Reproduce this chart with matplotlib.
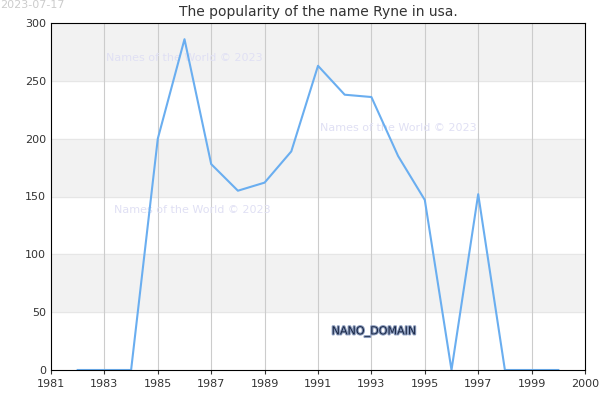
import matplotlib
matplotlib.use("Agg")
import matplotlib.pyplot as plt
import matplotlib.patheffects as pe

years = list(range(1982, 2001))
values = [0, 0, 0, 200, 286, 178, 155, 162, 189, 263, 238, 236, 185, 147, 0, 152, 0, 0, 0]
tick_pos = [1981, 1983, 1985, 1987, 1989, 1991, 1993, 1995, 1997, 1999, 2001]
tick_labels = ["1981", "1983", "1985", "1987", "1989", "1991", "1993", "1995", "1997", "1999", "2000"]

fig = plt.figure(figsize=(6, 4), dpi=100)
ax = fig.add_axes([51/600, 30/400, 534/600, 347/400])
ax.set_xlim(1981, 2001)
ax.set_ylim(0, 300)
for lo in (50, 150, 250):
    ax.axhspan(lo, lo + 50, color="#f2f2f2", zorder=0)
for y in range(50, 300, 50):
    ax.axhline(y, color="#e6e6e6", lw=0.8, zorder=0.5)
for x in tick_pos[1:-1]:
    ax.axvline(x, color="#cccccc", lw=0.8, zorder=0.5)
ax.plot(years, values, color="#6aaef0", lw=1.5, zorder=2)
ax.set_xticks(tick_pos)
ax.set_xticklabels(tick_labels)
ax.set_yticks(range(0, 301, 50))
ax.tick_params(labelsize=8, colors="#333333", length=0)
ax.tick_params(axis="x", length=3)
for s in ax.spines.values():
    s.set_color("black")
ax.set_title("The popularity of the name Ryne in usa.", fontsize=10, color="#333333", pad=5)
wm = dict(color="#e0e0f4", fontsize=8, zorder=1)
ax.text(1986, 270, "Names of the World © 2023", ha="center", va="center", **wm)
ax.text(1994, 209, "Names of the World © 2023", ha="center", va="center", **wm)
ax.text(1986.3, 138, "Names of the World © 2023", ha="center", va="center", **wm)
ax.text(1993.1, 33, "NANO_DOMAIN", ha="center", va="center", fontsize=8, color="#1a2744",
        path_effects=[pe.withStroke(linewidth=1.5, foreground="#8899bb")], zorder=3)
fig.text(0.0, 1.0, "2023-07-17", ha="left", va="top", fontsize=8, color="#cccccc")
fig.savefig("out.png", dpi=100)
